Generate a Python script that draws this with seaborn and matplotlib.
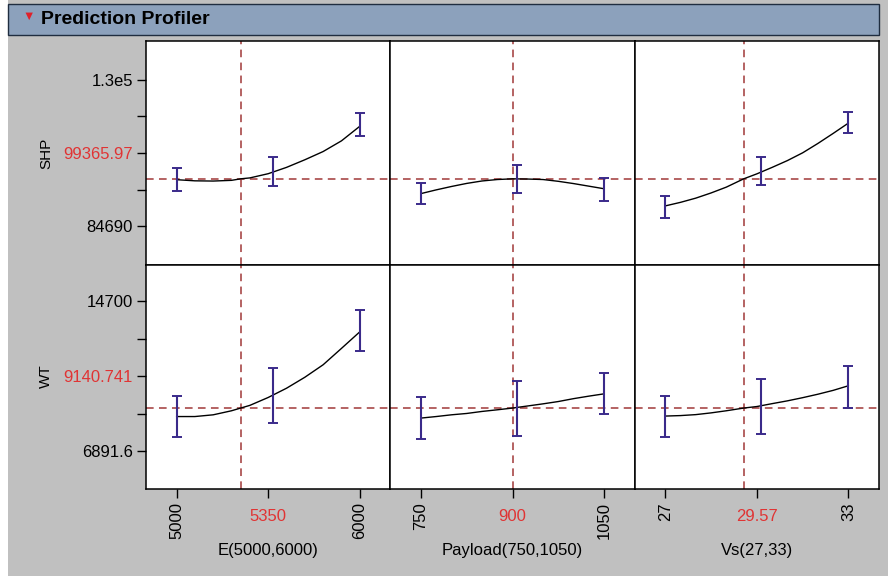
import matplotlib
matplotlib.use('Agg')
import matplotlib.pyplot as plt
import seaborn as sns
from matplotlib.patches import Rectangle
from matplotlib.ticker import FixedLocator

# factors (x of each column)
factor_labels = ['E(5000,6000)', 'Payload(750,1050)', 'Vs(27,33)']
factor_lo = [5000, 750, 27]
factor_hi = [6000, 1050, 33]
factor_lo_text = ['5000', '750', '27']
factor_hi_text = ['6000', '1050', '33']
factor_now = [5350, 900, 29.57]
factor_now_text = ['5350', '900', '29.57']

# responses (y of each row)
resp_names = ['SHP', 'WT']
resp_lo = [84690, 6891.6]
resp_hi = [130000, 14700]
resp_lo_text = ['84690', '6891.6']
resp_hi_text = ['1.3e5', '14700']
resp_now = [99365.97, 9140.741]
resp_now_text = ['99365.97', '9140.741']
resp_ylim = [(72750, 141940), (4937, 16571)]

# profile curves
e_grid = [5000, 5100, 5200, 5300, 5350, 5400, 5500, 5600, 5700, 5800, 5900, 6000]
shp_e = [99100, 98750, 98680, 98900, 99366, 99650, 100950, 102900, 105250, 107800, 111100, 115600]
wt_e = [8700, 8700, 8790, 9000, 9141, 9280, 9690, 10170, 10740, 11390, 12240, 13100]

pay_grid = [750, 775, 800, 825, 850, 875, 900, 925, 950, 975, 1000, 1025, 1050]
shp_pay = [94800, 95950, 97000, 97950, 98700, 99150, 99366, 99300, 99150, 98600, 97900, 97100, 96300]
wt_pay = [8620, 8700, 8790, 8860, 8965, 9050, 9141, 9250, 9360, 9480, 9630, 9760, 9880]

vs_grid = [27, 27.5, 28, 28.5, 29, 29.57, 30, 30.5, 31, 31.5, 32, 32.5, 33]
shp_vs = [91000, 92100, 93400, 95000, 96800, 99366, 100900, 102900, 105000, 107400, 110300, 113400, 116600]
wt_vs = [8725, 8750, 8800, 8890, 9000, 9141, 9220, 9370, 9515, 9680, 9860, 10060, 10300]

# confidence bars
bar_e = [5000, 5525, 6000]
bar_pay = [750, 907, 1050]
bar_vs = [27, 30.15, 33]
shp_lo_e = [95497, 97150, 112458]
shp_hi_e = [102660, 106212, 119591]
shp_lo_pay = [91731, 95099, 92649]
shp_hi_pay = [98160, 103671, 99600]
shp_lo_vs = [87139, 97548, 113468]
shp_hi_vs = [94089, 106028, 120099]
wt_lo_e = [7646, 8343, 12080]
wt_hi_e = [9774, 11241, 14228]
wt_lo_pay = [7557, 7714, 8851]
wt_hi_pay = [9721, 10560, 10963]
wt_lo_vs = [7646, 7819, 9166]
wt_hi_vs = [9774, 10649, 11314]

grids = [e_grid, pay_grid, vs_grid]
curves = [[shp_e, shp_pay, shp_vs], [wt_e, wt_pay, wt_vs]]
bar_x = [bar_e, bar_pay, bar_vs]
bar_lo = [[shp_lo_e, shp_lo_pay, shp_lo_vs], [wt_lo_e, wt_lo_pay, wt_lo_vs]]
bar_hi = [[shp_hi_e, shp_hi_pay, shp_hi_vs], [wt_hi_e, wt_hi_pay, wt_hi_vs]]

sns.set_theme(style='ticks', rc={'axes.edgecolor': 'black', 'xtick.color': 'black',
                                 'ytick.color': 'black', 'axes.linewidth': 1.1,
                                 'text.color': 'black', 'axes.labelcolor': 'black'})
plt.rcParams['font.family'] = ['Liberation Sans', 'DejaVu Sans']

RED = '#e03434'
DASH = '#a03838'
BAR = '#3a2a8a'
W, H = 888, 576

fig = plt.figure(figsize=(W / 100, H / 100), dpi=100, facecolor='#c0c0c0')
gs = fig.add_gridspec(2, 3, left=146 / W, right=879 / W, top=1 - 41 / H,
                      bottom=1 - 489 / H, wspace=0, hspace=0)

# header bar
fig.patches.append(Rectangle((0, 0), 8 / W, 1, transform=fig.transFigure,
                             facecolor='white', edgecolor='none', zorder=0))
fig.patches.append(Rectangle((8 / W, 1 - 35 / H), 871 / W, 31 / H, transform=fig.transFigure,
                             facecolor='#8ca1bc', edgecolor='#1f2d40', lw=1.0))
fig.text(29 / W, 1 - 17 / H, '\u25bc', color='#e0202a', fontsize=9, ha='center', va='center')
fig.text(41 / W, 1 - 20 / H, 'Prediction Profiler', fontsize=14, weight='bold', va='center')

for r in range(2):
    for c in range(3):
        ax = fig.add_subplot(gs[r, c])
        ax.set_facecolor('white')
        sns.lineplot(x=grids[c], y=curves[r][c], ax=ax, color='black', lw=1)
        lo = bar_lo[r][c]
        hi = bar_hi[r][c]
        mid = [(a + b) / 2 for a, b in zip(lo, hi)]
        ax.errorbar(bar_x[c], mid, yerr=[[m - a for m, a in zip(mid, lo)], [b - m for m, b in zip(mid, hi)]],
                    fmt='none', ecolor=BAR, elinewidth=1.5, capsize=3.5, capthick=1.4, zorder=3)
        ax.axhline(resp_now[r], color=DASH, ls=(0, (5, 3.5)), lw=1.1, zorder=1)
        ax.axvline(factor_now[c], color=DASH, ls=(0, (5, 3.5)), lw=1.1, zorder=1)

        span = factor_hi[c] - factor_lo[c]
        ax.set_xlim(factor_lo[c] - span / 6, factor_hi[c] + span / 6)
        ax.set_ylim(*resp_ylim[r])
        ax.tick_params(which='both', direction='out', length=6.5, width=1, labelsize=12, pad=3)

        ymid = (resp_lo[r] + resp_hi[r]) / 2
        if c == 0:
            ax.set_yticks([resp_lo[r], ymid, resp_hi[r]])
            ax.set_yticklabels([resp_lo_text[r], resp_now_text[r], resp_hi_text[r]])
            ax.get_yticklabels()[1].set_color(RED)
            q = (resp_hi[r] - resp_lo[r]) / 4
            ax.yaxis.set_minor_locator(FixedLocator([resp_lo[r] + q, resp_hi[r] - q]))
            ax.annotate(resp_names[r], xy=(0, ymid), xycoords=('axes fraction', 'data'),
                        xytext=(-72, 0), textcoords='offset points', rotation=90,
                        ha='center', va='center', fontsize=11)
        else:
            ax.set_yticks([])

        if r == 1:
            xmid = (factor_lo[c] + factor_hi[c]) / 2
            ax.set_xticks([factor_lo[c], xmid, factor_hi[c]])
            ax.set_xticklabels([factor_lo_text[c], '', factor_hi_text[c]], rotation=90)
            ax.annotate(factor_now_text[c], xy=(xmid, 0), xycoords=('data', 'axes fraction'),
                        xytext=(0, -14.5), textcoords='offset points', ha='center', va='top',
                        color=RED, fontsize=12)
            ax.annotate(factor_labels[c], xy=(0.5, 0), xycoords='axes fraction',
                        xytext=(0, -44), textcoords='offset points', ha='center', va='center',
                        fontsize=12)
        else:
            ax.set_xticks([])
        ax.set_xlabel('')
        ax.set_ylabel('')

fig.savefig('out.png', dpi=100, facecolor=fig.get_facecolor())
